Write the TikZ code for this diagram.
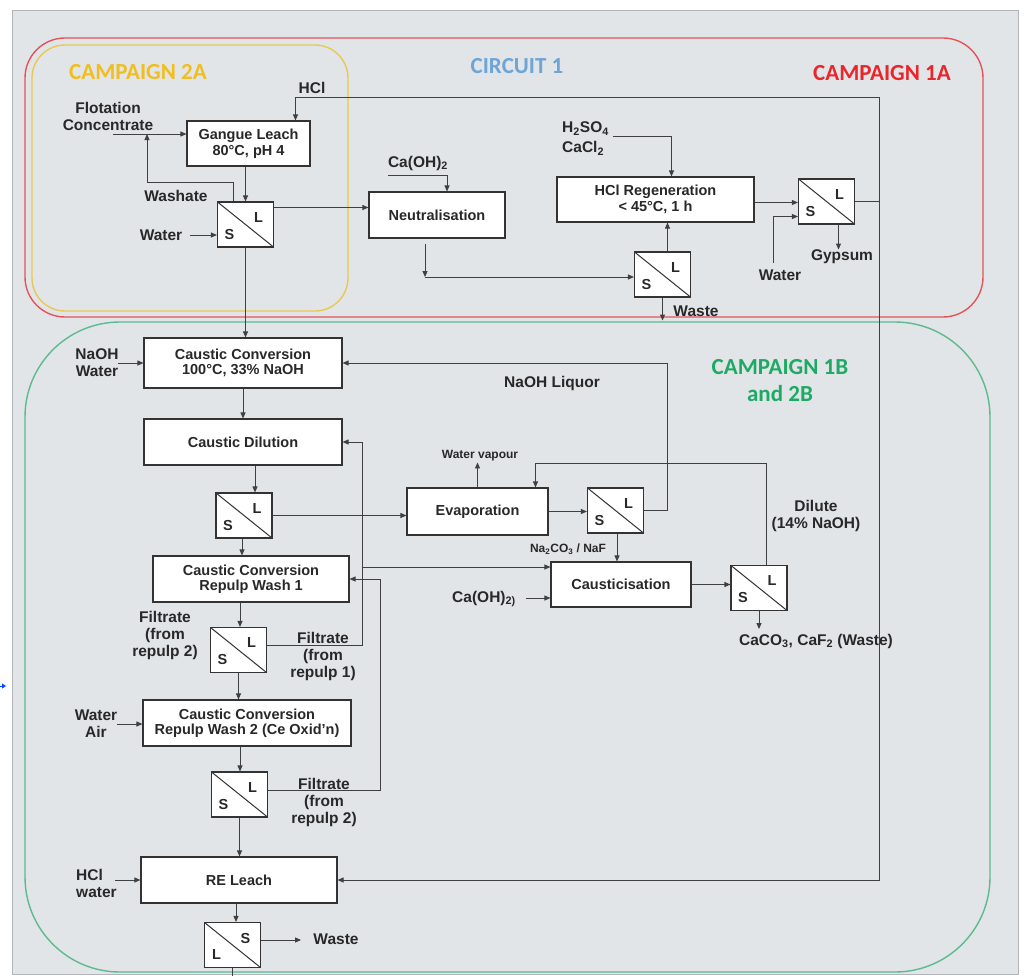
\documentclass[tikz,border=0pt]{standalone}
\usepackage{fontspec}
\setmainfont{Liberation Sans}
\newfontfamily\titlefont{Carlito}
\usetikzlibrary{arrows.meta}

\definecolor{panelgray}{RGB}{226,229,232}
\definecolor{panelline}{RGB}{178,182,186}
\definecolor{campred}{RGB}{232,38,44}
\definecolor{campredline}{RGB}{226,84,90}
\definecolor{campyellow}{RGB}{240,190,30}
\definecolor{campyellowline}{RGB}{232,200,84}
\definecolor{campgreen}{RGB}{30,170,100}
\definecolor{campgreenline}{RGB}{92,186,142}
\definecolor{circblue}{RGB}{110,165,215}
\definecolor{inkgray}{RGB}{40,40,40}

\newcommand{\procfont}{\fontsize{14.5}{15.5}\selectfont\bfseries}
\newcommand{\lblfont}{\fontsize{15.5}{17}\selectfont\bfseries}
\newcommand{\tinyfont}{\fontsize{12}{13}\selectfont\bfseries}
\newcommand{\campfont}{\fontsize{23}{27}\selectfont\titlefont\bfseries}

\tikzset{
  proc/.style={draw=black!80, line width=1.1pt, fill=white, align=center, inner sep=1pt, font=\procfont, text=inkgray},
  sepbox/.style 2 args={draw=black!80, line width=1.1pt, fill=white, minimum width=56pt, minimum height=45pt, inner sep=0pt,
    path picture={
      \draw[black!80, line width=1pt] (path picture bounding box.north west) -- (path picture bounding box.south east);
      \node[font=\procfont, text=inkgray, inner sep=0pt] at ([shift={(13,-7)}]path picture bounding box.center) {#1};
      \node[font=\procfont, text=inkgray, inner sep=0pt] at ([shift={(-16,10)}]path picture bounding box.center) {#2};
    }},
  lbl/.style={font=\lblfont, align=center, inner sep=0pt, text=inkgray},
  tinylbl/.style={font=\tinyfont, inner sep=0pt, text=inkgray},
  campaign/.style={font=\campfont, align=center, inner sep=0pt},
  flow/.style={draw=black!75, line width=0.9pt, -{Triangle[length=6pt,width=5pt]}},
  pipe/.style={draw=black!75, line width=0.9pt},
}

\begin{document}
\begin{tikzpicture}[x=1pt, y=-1pt]
  \useasboundingbox (0,0) rectangle (1026,980);
  % panel and campaign outlines
  \filldraw[fill=panelgray, draw=panelline, line width=1pt] (12,10) rectangle (1018,974);
  \draw[campredline, line width=1.4pt, rounded corners=40pt] (25,38) rectangle (983,317);
  \draw[campyellowline, line width=1.4pt, rounded corners=33pt] (32,45) rectangle (348,311);
  \draw[campgreenline, line width=1.4pt, rounded corners=95pt] (25,322) rectangle (990,972);
  \draw[blue!70!cyan, -{Triangle[length=4pt,width=5pt]}] (0,686) -- (6,686);

  \node[campaign, text=campyellow] (camp2a) at (138,72) {CAMPAIGN 2A};
  \node[campaign, text=circblue] (circ1) at (517,66) {CIRCUIT 1};
  \node[campaign, text=campred] (camp1a) at (882,73) {CAMPAIGN 1A};
  \node[campaign, text=campgreen] (camp1b) at (780,381) {CAMPAIGN 1B\\and 2B};

  % circuit 1 units
  \node[proc, minimum width=123pt, minimum height=45pt] (gangue) at (248.5,143.5) {Gangue Leach\\80°C, pH 4};
  \node[sepbox={L}{S}] (sl1) at (245.5,224.5) {};
  \node[proc, minimum width=136pt, minimum height=46pt] (neut) at (437,215) {Neutralisation};
  \node[proc, minimum width=197pt, minimum height=45pt] (hclreg) at (655.5,199.5) {HCl Regeneration\\< 45°C, 1 h};
  \node[sepbox={L}{S}] (sl2) at (662.5,274.5) {};
  \node[sepbox={L}{S}] (sl3) at (826.5,201.5) {};

  % caustic conversion units
  \node[proc, minimum width=198pt, minimum height=50pt] (ccon) at (243,363) {Caustic Conversion\\100°C, 33\% NaOH};
  \node[proc, minimum width=198pt, minimum height=46pt] (cdil) at (243,442) {Caustic Dilution};
  \node[sepbox={L}{S}] (sl4) at (244,515.5) {};
  \node[proc, minimum width=141pt, minimum height=47pt] (evap) at (477.5,511.5) {Evaporation};
  \node[sepbox={L}{S}] (sl5) at (615.5,510.5) {};
  \node[proc, minimum width=140pt, minimum height=45pt] (caust) at (621,584.5) {Causticisation};
  \node[sepbox={L}{S}] (sl6) at (759,588) {};
  \node[proc, minimum width=196pt, minimum height=46pt] (rw1) at (251,579) {Caustic Conversion\\Repulp Wash 1};
  \node[sepbox={L}{S}] (sl7) at (238.5,650) {};
  \node[proc, minimum width=208pt, minimum height=46pt] (rw2) at (247,723) {Caustic Conversion\\Repulp Wash 2 (Ce Oxid'n)};
  \node[sepbox={L}{S}] (sl8) at (239.5,794.5) {};
  \node[proc, minimum width=196pt, minimum height=46pt] (reln) at (239,880) {RE Leach};
  \node[sepbox={S}{L}] (sl9) at (232.5,945) {};

  % stream labels
  \node[lbl] (flot) at (108,116.5) {Flotation\\Concentrate};
  \node[lbl] (hcltop) at (312,88) {HCl};
  \node[lbl] (washate) at (176,196) {Washate};
  \node[lbl] (water1) at (161,235) {Water};
  \node[lbl] (caoh) at (418,163) {Ca(OH)\textsubscript{2}};
  \node[lbl, anchor=west, align=left] (acid) at (562,138.5) {H\textsubscript{2}SO\textsubscript{4}\\[3pt]CaCl\textsubscript{2}};
  \node[lbl] (waste1) at (696,311) {Waste};
  \node[lbl] (water3) at (780,275) {Water};
  \node[lbl] (gypsum) at (842,257) {Gypsum};
  \node[lbl] (naoh) at (97,363) {NaOH\\Water};
  \node[lbl] (liquor) at (552,383) {NaOH Liquor};
  \node[tinylbl] (vapour) at (480,456) {Water vapour};
  \node[lbl] (dilute) at (816,516) {Dilute\\(14\% NaOH)};
  \node[tinylbl] (nacarb) at (568,549) {Na\textsubscript{2}CO\textsubscript{3} / NaF};
  \node[lbl] (caoh2) at (484,599) {Ca(OH)\textsubscript{2)}};
  \node[lbl] (cawaste) at (816,641) {CaCO\textsubscript{3}, CaF\textsubscript{2} (Waste)};
  \node[lbl] (filtl) at (165,635) {Filtrate\\(from\\repulp 2)};
  \node[lbl] (filtr1) at (323,656) {Filtrate\\(from\\repulp 1)};
  \node[lbl] (filtr2) at (324,802) {Filtrate\\(from\\repulp 2)};
  \node[lbl] (waterair) at (96,723.5) {Water\\Air};
  \node[lbl, anchor=west, align=left] (hclwater) at (76,883) {HCl\\water};
  \node[lbl] (waste2) at (336,939) {Waste};

  % free ends and bends
  \coordinate (flotin) at (113,134);
  \coordinate (washjn) at (147,134);
  \coordinate (hclbus) at (879,97);
  \coordinate (water1in) at (190,235);
  \coordinate (caohin) at (388,175);
  \coordinate (neutdrop) at (425,277);
  \coordinate (acidin) at (613,136);
  \coordinate (water3in) at (773,263);
  \coordinate (naohin) at (118,363);
  \coordinate (liqbus) at (667,363);
  \coordinate (dilbus) at (766,463);
  \coordinate (caoh2in) at (526,598);
  \coordinate (filt1bus) at (362,645);
  \coordinate (filt1tap) at (362,567);
  \coordinate (filt2bus) at (380,790);
  \coordinate (airin) at (117,724);
  \coordinate (rehclin) at (115,880);

  % circuit 1 streams
  \draw[flow] (flotin) -- (gangue.west |- flotin);
  \draw[flow] ([xshift=-12pt]sl1.north) -- ++(0,-19) -| (washjn);
  \draw[flow] ([xshift=-3pt]gangue.south) -- ([xshift=-3pt]gangue.south |- sl1.north);
  \draw[flow] (sl1.east) ++(0,-17) -- ([yshift=17pt]sl1.east -| neut.west);
  \draw[flow] (sl3.east) -| (hclbus) -| ([xshift=47pt]gangue.north);
  \draw[flow] (sl3.east) -| (hclbus |- reln.east) -- (reln.east);
  \draw[flow] (water1in) -- (water1in -| sl1.west);
  \draw[flow] (caohin) -| ([xshift=10pt]neut.north);
  \draw[flow] ([xshift=-12pt]neut.south) ++(0,5) -- (neutdrop);
  \draw[flow] (neutdrop) -- (neutdrop -| sl2.west);
  \draw[flow] ([xshift=5pt]sl2.north) -- ([xshift=5pt]sl2.north |- hclreg.south);
  \draw[flow] (sl2.south) -- ++(0,23);
  \draw[flow] (acidin) -| ([xshift=16pt]hclreg.north);
  \draw[flow] ([yshift=-3pt]hclreg.east) -- ([yshift=-3pt]hclreg.east -| sl3.west);
  \draw[flow] (water3in) |- ([yshift=-15pt]sl3.west);
  \draw[flow] ([xshift=12pt]sl3.south) -- ++(0,25);

  % caustic streams
  \draw[flow] (sl1.south) -- (sl1.south |- ccon.north);
  \draw[flow] (naohin) -- (ccon.west);
  \draw[flow] (sl5.east) -| (liqbus) -- (ccon.east);
  \draw[flow] (ccon.south) -- (cdil.north);
  \draw[flow] ([xshift=12pt]cdil.south) -- ([xshift=12pt]cdil.south |- sl4.north);
  \draw[flow] (sl4.east) -- (sl4.east -| evap.west);
  \draw[flow] ([xshift=-2pt]sl4.south) -- ([xshift=-2pt]sl4.south |- rw1.north);
  \draw[flow] (evap.north) -- ++(0,-25);
  \draw[flow] (evap.east) -- (evap.east -| sl5.west);
  \draw[flow] ([xshift=7pt]sl6.north) -- (dilbus) -| ([xshift=58pt]evap.north);
  \draw[flow] ([xshift=1.5pt]sl5.south) -- ([xshift=1.5pt]sl5.south |- caust.north);
  \draw[flow] (caoh2in) -- (caoh2in -| caust.west);
  \draw[flow] (caust.east) -- (caust.east -| sl6.west);
  \draw[flow] (sl6.south) -- ++(0,18);

  % repulp washes and filtrates
  \draw[flow] ([yshift=5pt]sl7.east) -- (filt1bus) |- (cdil.east);
  \draw[flow] (filt1tap) -- (filt1tap -| caust.west);
  \draw[flow] ([yshift=4.5pt]sl8.east) -- (filt2bus) |- (rw1.east);
  \draw[flow] ([xshift=-11pt]rw1.south) -- ([xshift=-11pt]rw1.south |- sl7.north);
  \draw[flow] (sl7.south) -- (sl7.south |- rw2.north);
  \draw[flow] (airin) -- (airin -| rw2.west);
  \draw[flow] ([xshift=-7pt]rw2.south) -- ([xshift=-7pt]rw2.south |- sl8.north);
  \draw[flow] (sl8.south) -- (sl8.south |- reln.north);
  \draw[flow] (rehclin) -- (reln.west);
  \draw[flow] ([xshift=-3pt]reln.south) -- ([xshift=-3pt]reln.south |- sl9.north);
  \draw[flow] ([yshift=5pt]sl9.east) -- ++(40,0);
  \draw[pipe] (sl9.south) -- ++(0,8);
\end{tikzpicture}
\end{document}
